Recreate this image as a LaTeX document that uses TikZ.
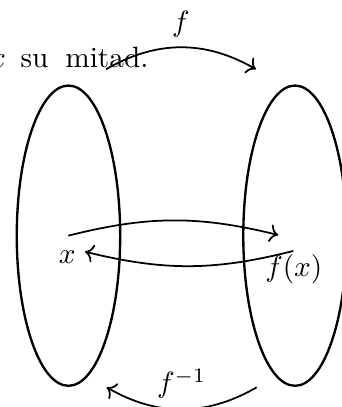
\documentclass[tikz,border=0pt]{standalone}
\usepackage{amsmath,amssymb}
\usepackage{tikz}
\usetikzlibrary{arrows.meta}
\tikzset{
  set ellipse/.style={
    thick
  },
  map arrow/.style={
    ->,
    semithick
  },
  elem/.style={
    inner sep=0pt
  }
}
\begin{document}
\begin{tikzpicture}
  \useasboundingbox (0,0) rectangle (4.10,4.88);
  \clip (0,0) rectangle (4.10,4.88);

  % Line of text behind the picture
  \node[elem, anchor=base east] (txt) at (1.787,4.068) {$x$\hspace{5pt}su\hspace{5.8pt}mitad.};

  % Sets
  \draw[set ellipse] (0.821,2.054) ellipse (0.62 and 1.80);
  \draw[set ellipse] (3.537,2.054) ellipse (0.62 and 1.80);

  % Elements
  \node[elem] (x) at (0.806,1.799) {$x$};
  \node[elem] (fx) at (3.523,1.650) {$f(x)$};

  % Arrow ends
  \coordinate (fs) at (1.271,4.049);
  \coordinate (fe) at (3.069,4.049);
  \coordinate (gs) at (3.078,0.236);
  \coordinate (ge) at (1.279,0.236);
  \coordinate (xs) at (0.819,2.054);
  \coordinate (xe) at (3.337,2.062);
  \coordinate (ys) at (3.517,1.871);
  \coordinate (ye) at (1.019,1.862);

  % Maps
  \draw[map arrow] (fs) to[bend left=30] node[above] {$f$} (fe);
  \draw[map arrow] (gs) to[bend left=30] node[above] {$f^{-1}$} (ge);
  \draw[map arrow] (xs) to[bend left=14] (xe);
  \draw[map arrow] (ys) to[bend left=14] (ye);
\end{tikzpicture}
\end{document}
